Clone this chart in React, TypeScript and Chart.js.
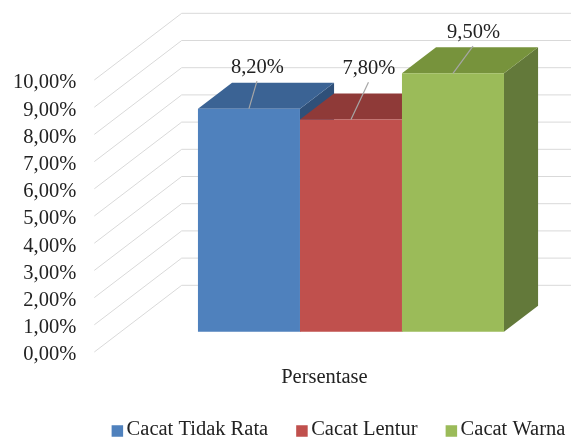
import React, { useEffect, useRef } from 'react';
import { Chart, registerables } from 'chart.js';

Chart.register(...registerables);

// ---- data ----
const categories = ['Persentase'];
const seriesNames = ['Cacat Tidak Rata', 'Cacat Lentur', 'Cacat Warna'];
const seriesValues = [8.2, 7.8, 9.5];
const yMin = 0;
const yMax = 10;
const yStep = 1;

// ---- styles ----
const FONT_FAMILY = "'Liberation Serif', 'Times New Roman', serif";
const FONT_SIZE = 20.5;
const TEXT_COLOR = '#222222';
const GRID_COLOR = '#d9d9d9';
const LEADER_COLOR = '#a6a6a6';
const frontColors = ['#4f81bd', '#c0504d', '#9bbb59'];
const topColors = ['#3b6394', '#8f3a38', '#77933c'];
const sideColors = ['#2f5079', '#76302e', '#63793a'];

// label centre relative to the front-top middle of each bar (px)
const labelOffsets: [number, number][] = [
  [8.5, -42],
  [18, -51.7],
  [20.5, -41.6],
];

// oblique projection of the depth axis
const WALL_DX = 87.4; // full floor depth, horizontal shift
const WALL_DY = 66.7; // full floor depth, vertical shift
const BAR_FRONT = 0.304; // bar front face position along the depth (0..1)
const BAR_DEPTH = 0.39; // bar thickness along the depth (0..1)

const LEGEND_CENTER_X = 338.5;
const LEGEND_Y = 430;
const LEGEND_BOX = 11.5;

const fmtPct = (v: number) => v.toFixed(2).replace('.', ',') + '%';

const threeD = {
  id: 'threeD',
  beforeDatasetsDraw(chart: any) {
    const { ctx, chartArea, scales } = chart;
    const y = scales.y;
    ctx.save();
    // walls: diagonal floor-to-back lines plus back wall lines
    ctx.strokeStyle = GRID_COLOR;
    ctx.lineWidth = 1;
    for (let v = yMin; v <= yMax + 1e-9; v += yStep) {
      const py = y.getPixelForValue(v);
      ctx.beginPath();
      ctx.moveTo(chartArea.left, py);
      ctx.lineTo(chartArea.left + WALL_DX, py - WALL_DY);
      ctx.lineTo(chart.width, py - WALL_DY);
      ctx.stroke();
    }
    // top and side faces of each bar
    const fdx = WALL_DX * BAR_FRONT;
    const fdy = WALL_DY * BAR_FRONT;
    const ddx = WALL_DX * BAR_DEPTH;
    const ddy = WALL_DY * BAR_DEPTH;
    chart.data.datasets.forEach((ds: any, i: number) => {
      const meta = chart.getDatasetMeta(i);
      meta.data.forEach((bar: any) => {
        const { x, y: top, base, width } = bar.getProps(['x', 'y', 'base', 'width'], true);
        const l = x - width / 2 + fdx;
        const r = x + width / 2 + fdx;
        const t = top - fdy;
        const b = base - fdy;
        ctx.fillStyle = sideColors[i];
        ctx.beginPath();
        ctx.moveTo(r, t);
        ctx.lineTo(r + ddx, t - ddy);
        ctx.lineTo(r + ddx, b - ddy);
        ctx.lineTo(r, b);
        ctx.closePath();
        ctx.fill();
        ctx.fillStyle = topColors[i];
        ctx.beginPath();
        ctx.moveTo(l, t);
        ctx.lineTo(r, t);
        ctx.lineTo(r + ddx, t - ddy);
        ctx.lineTo(l + ddx, t - ddy);
        ctx.closePath();
        ctx.fill();
      });
    });
    ctx.restore();
    // front faces are drawn by Chart.js, shifted to the bar plane
    ctx.save();
    ctx.translate(fdx, -fdy);
  },
  afterDatasetsDraw(chart: any) {
    const { ctx } = chart;
    ctx.restore();
    const fdx = WALL_DX * BAR_FRONT;
    const fdy = WALL_DY * BAR_FRONT;
    ctx.save();
    ctx.font = `${FONT_SIZE}px ${FONT_FAMILY}`;
    ctx.textAlign = 'center';
    ctx.textBaseline = 'middle';
    chart.data.datasets.forEach((ds: any, i: number) => {
      const meta = chart.getDatasetMeta(i);
      meta.data.forEach((bar: any, j: number) => {
        const { x, y: top } = bar.getProps(['x', 'y'], true);
        const ax = x + fdx;
        const ay = top - fdy;
        const [ox, oy] = labelOffsets[i];
        const lx = ax + ox;
        const ly = ay + oy;
        ctx.strokeStyle = LEADER_COLOR;
        ctx.lineWidth = 1.2;
        ctx.beginPath();
        ctx.moveTo(ax, ay);
        ctx.lineTo(lx - 0.5, ly + 14.5);
        ctx.stroke();
        ctx.fillStyle = TEXT_COLOR;
        ctx.fillText(fmtPct(ds.data[j]), lx, ly + 1);
      });
    });
    ctx.restore();
  },
  afterDraw(chart: any) {
    // legend row
    const { ctx } = chart;
    ctx.save();
    ctx.font = `${FONT_SIZE}px ${FONT_FAMILY}`;
    ctx.textBaseline = 'middle';
    ctx.textAlign = 'left';
    const gapBoxText = 3.5;
    const gapItems = 28;
    const items = chart.data.datasets.map((ds: any) => ({
      text: ds.label,
      w: LEGEND_BOX + gapBoxText + ctx.measureText(ds.label).width,
    }));
    const total = items.reduce((s: number, it: any) => s + it.w, 0) + gapItems * (items.length - 1);
    let cx = LEGEND_CENTER_X - total / 2;
    items.forEach((it: any, i: number) => {
      ctx.fillStyle = frontColors[i];
      ctx.fillRect(cx, LEGEND_Y - LEGEND_BOX / 2 + 1, LEGEND_BOX, LEGEND_BOX);
      ctx.fillStyle = TEXT_COLOR;
      ctx.fillText(it.text, cx + LEGEND_BOX + gapBoxText, LEGEND_Y);
      cx += it.w + gapItems;
    });
    ctx.restore();
  },
};

export default function App() {
  const canvasRef = useRef<HTMLCanvasElement | null>(null);

  useEffect(() => {
    const canvas = canvasRef.current;
    if (!canvas) return;
    const chart = new Chart(canvas, {
      type: 'bar',
      data: {
        labels: categories,
        datasets: seriesNames.map((name, i) => ({
          label: name,
          data: [seriesValues[i]],
          backgroundColor: frontColors[i],
          borderWidth: 0,
          categoryPercentage: 0.665,
          barPercentage: 1,
          clip: false as any,
        })),
      },
      options: {
        responsive: false,
        animation: false,
        layout: { padding: { top: 80, right: 16.5, left: 0, bottom: 0 } },
        plugins: {
          legend: { display: false },
          tooltip: { enabled: false },
        },
        scales: {
          x: {
            grid: { display: false, drawTicks: false },
            border: { display: false },
            ticks: {
              color: TEXT_COLOR,
              font: { family: FONT_FAMILY, size: FONT_SIZE },
              padding: 13,
            },
            afterFit: (s: any) => {
              s.height = 86;
            },
          },
          y: {
            min: yMin,
            max: yMax,
            grid: { display: false, drawTicks: false },
            border: { display: false },
            ticks: {
              stepSize: yStep,
              autoSkip: false,
              color: TEXT_COLOR,
              font: { family: FONT_FAMILY, size: FONT_SIZE, lineHeight: 1 },
              padding: 18,
              labelOffset: 3,
              callback: (v: any) => fmtPct(Number(v)),
            },
            afterFit: (s: any) => {
              s.width = 94.3;
            },
          },
        },
      },
      plugins: [threeD],
    });
    return () => chart.destroy();
  }, []);

  return (
    <div style={{ position: 'fixed', left: 0, top: 0, width: 571, height: 438, background: '#ffffff' }}>
      <canvas ref={canvasRef} width={571} height={438} style={{ display: 'block' }} />
    </div>
  );
}
